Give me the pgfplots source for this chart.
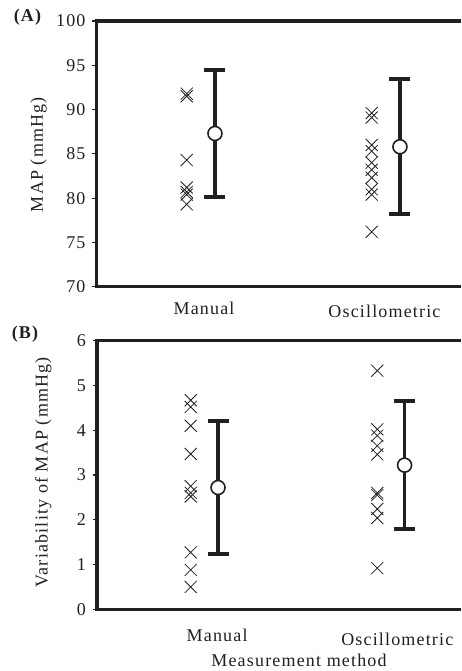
\documentclass[border=0pt]{standalone}
\usepackage{fontspec}
\setmainfont{Liberation Serif}[LetterSpace=6.5]
\usepackage{pgfplots}
\pgfplotsset{compat=1.18}
\definecolor{ink}{HTML}{231F20}
\begin{document}
\begin{tikzpicture}
\pgfplotsset{
  panel/.style={
    scale only axis, anchor=south west, xmin=0, xmax=4, clip=false,
    axis line style={draw=none},
    xtick=\empty,
    ytick pos=left,
    tick align=outside,
    major tick length=4.5pt,
    ytick style={line width=1.2pt, color=ink},
    /pgf/number format/assume math mode=true,
    yticklabel style={font=\fontsize{18}{21}\selectfont, xshift=-3pt, text=ink},
  },
  crosses/.style={only marks, mark=x, mark size=8.5pt, mark options={line width=0.8pt, draw=ink}},
  bars/.style={only marks, mark=none, error bars/.cd, y dir=both, y explicit,
    error bar style={line width=3.5pt, draw=ink, solid},
    error mark options={rotate=90, draw=ink, mark size=10.5pt, line width=4pt}},
  means/.style={only marks, mark=*, mark size=7pt, mark options={fill=white, draw=ink, line width=1.6pt}},
}
% ---------- Panel A ----------
\begin{axis}[panel, at={(96.5pt,384.3pt)}, width=364.5pt, height=265.7pt,
  ymin=70, ymax=100, ytick={70,75,...,100}]
\draw[ink, line width=3.3pt] (axis cs:4,100) -- (axis cs:0,100) -- (axis cs:0,70) -- (axis cs:4,70);
\addplot[crosses] coordinates {(0.99,91.8) (0.99,91.5) (0.99,84.3) (0.99,81.2) (0.99,80.7) (0.99,80.4) (0.99,79.3)};
\addplot[crosses] coordinates {(3.02,89.6) (3.02,89.1) (3.02,86.0) (3.02,85.3) (3.02,84.0) (3.02,83.2) (3.02,82.3) (3.02,81.0) (3.02,80.4) (3.02,76.2)};
\addplot[bars] coordinates {(1.30,87.3) +- (0,7.2) (3.33,85.8) +- (0,7.6)};
\addplot[means] coordinates {(1.30,87.3) (3.33,85.8)};
\node[anchor=base, font=\fontsize{18}{21}\selectfont, text=ink] at (axis cs:1.18,66.85) {Manual};
\node[anchor=base, font=\fontsize{18}{21}\selectfont, text=ink] at (axis cs:3.16,66.5) {Oscillometric};
\node[rotate=90, font=\fontsize{18}{21}\selectfont, text=ink] at (axis cs:-0.636,84.9) {MAP (mmHg)};
\end{axis}
% ---------- Panel B ----------
\begin{axis}[panel, at={(97pt,61.7pt)}, width=364pt, height=268.6pt,
  ymin=0, ymax=6, ytick={0,1,...,6}]
\draw[ink, line width=3.3pt] (axis cs:4,6) -- (axis cs:0,6) -- (axis cs:0,0) -- (axis cs:4,0);
\addplot[crosses] coordinates {(1.03,4.67) (1.03,4.52) (1.03,4.10) (1.03,3.47) (1.03,2.75) (1.03,2.60) (1.03,2.52) (1.03,1.27) (1.03,0.88) (1.03,0.50)};
\addplot[crosses] coordinates {(3.08,5.33) (3.08,4.02) (3.08,3.88) (3.08,3.65) (3.08,3.46) (3.08,2.60) (3.08,2.55) (3.08,2.24) (3.08,2.04) (3.08,0.92)};
\addplot[bars] coordinates {(1.33,2.72) +- (0,1.49) (3.38,3.22) +- (0,1.43)};
\addplot[means] coordinates {(1.33,2.72) (3.38,3.22)};
\node[anchor=base, font=\fontsize{18}{21}\selectfont, text=ink] at (axis cs:1.32,-0.73) {Manual};
\node[anchor=base, font=\fontsize{18}{21}\selectfont, text=ink] at (axis cs:3.30,-0.80) {Oscillometric};
\node[rotate=90, font=\fontsize{18}{21}\selectfont, text=ink] at (axis cs:-0.59,3.06) {Variability of MAP (mmHg)};
\node[anchor=base, inner sep=0pt, font=\fontsize{18}{21}\selectfont, text=ink] at (axis cs:2.22,-1.28) {Measurement method};
\end{axis}
\node[font=\bfseries\fontsize{18}{21}\selectfont, text=ink] at (27.5pt,654pt) {(A)};
\node[font=\bfseries\fontsize{18}{21}\selectfont, text=ink] at (25pt,337pt) {(B)};
\pgfresetboundingbox
\useasboundingbox (0pt,0pt) rectangle (461pt,671pt);
\end{tikzpicture}
\end{document}
